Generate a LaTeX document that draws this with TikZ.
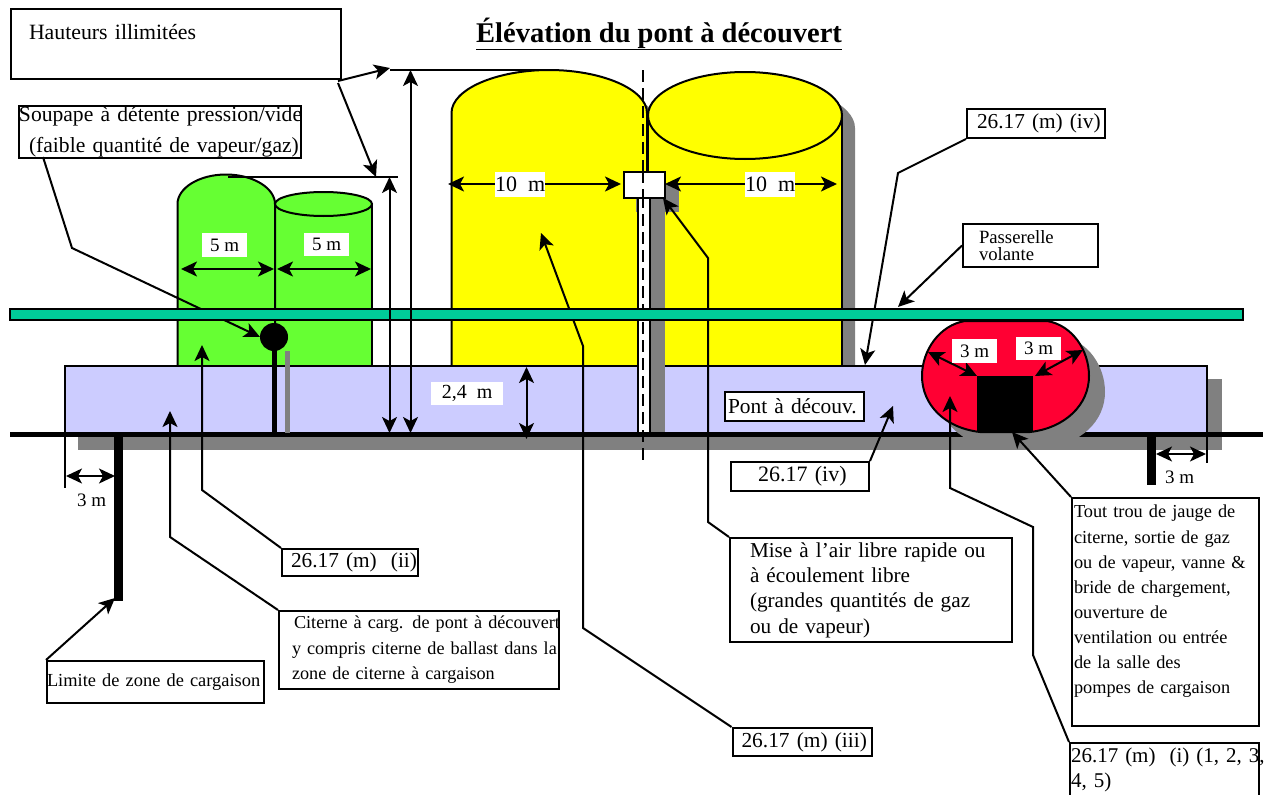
\documentclass[tikz,border=0pt]{standalone}
\usepackage{fontspec}
\setmainfont{Liberation Serif}
\usetikzlibrary{arrows.meta}
\definecolor{tankgreen}{HTML}{66FF33}
\definecolor{tankyellow}{HTML}{FFFF00}
\definecolor{deckblue}{HTML}{CCCCFF}
\definecolor{walkgreen}{HTML}{00CC99}
\definecolor{tankred}{HTML}{FF0033}
\definecolor{shadowgrey}{HTML}{808080}
\newcommand\linetxt[2]{\mbox{\kern#1pt #2}}
\newcommand\fs[2]{\fontsize{#1}{#2}\selectfont}
\tikzset{
  lead/.style={draw=black,line width=2pt,-{Stealth[length=16pt,width=15pt,inset=4pt]},line join=miter},
  dimb/.style={draw=black,line width=2pt,{Stealth[length=16pt,width=15pt,inset=4pt]}-{Stealth[length=16pt,width=15pt,inset=4pt]}},
  plain/.style={draw=black,line width=2pt},
  callout/.style={draw=black,fill=white,line width=2pt,anchor=north west,inner sep=0pt,align=left,text=black},
  whitelabel/.style={fill=white,inner sep=0pt,anchor=north west,align=center},
  freetext/.style={inner sep=0pt,anchor=base west},
  shadow/.style={fill=shadowgrey,draw=none},
  tank/.style={draw=black,line width=2pt},
}
\begin{document}
\begin{tikzpicture}[x=1pt,y=-1pt]
\useasboundingbox (0,0) rectangle (1270,795);
\fill[white] (0,0) rectangle (1270,795);

% yellow tank shadows
\path[shadow] (464.5,379) -- (464.5,127) .. controls (464.5,103) and (510,83) .. (562,83) .. controls (614,83) and (660,103) .. (660,127) -- (660,379) -- cycle;
\path[shadow] (661,379) -- (661,128) .. controls (661,104) and (706,84) .. (758,84) .. controls (810,84) and (855,104) .. (855,128) -- (855,379) -- cycle;
% yellow tanks
\path[tank,fill=tankyellow] (648,366) -- (648,115.5) -- (842,115.5) -- (842,366) -- cycle;
\path[tank,fill=tankyellow] (451.5,366) -- (451.5,113) .. controls (451.5,89) and (497,70) .. (549,70) .. controls (601,70) and (647,89) .. (647,113) -- (647,366) -- cycle;
\path[tank,fill=tankyellow] (745,115.5) ellipse [x radius=97,y radius=43.5];
% green tanks
\path[tank,fill=tankgreen] (275,366) -- (275,204) -- (372,204) -- (372,366) -- cycle;
\path[tank,fill=tankgreen] (177.5,366) -- (177.5,204) .. controls (177.5,188) and (199,174.5) .. (226,174.5) .. controls (253,174.5) and (275,188) .. (275,204) -- (275,366) -- cycle;
\path[tank,fill=tankgreen] (323.5,204) ellipse [x radius=48.5,y radius=12];

% deck
\path[shadow] (78,379) rectangle (1222,449.5);
\path[tank,fill=deckblue] (65,366) rectangle (1207,434);
% vent shadow
\path[shadow] (650,197) rectangle (665,434);
\path[shadow] (636,184) rectangle (679,212);
% vent pipe
\path[tank,fill=white] (637.5,190) rectangle (650,434);

% named points
\coordinate (ventTip) at (663,198);
\coordinate (ventBend) at (708,258);
\coordinate (ventBendB) at (708,522);
\coordinate (ivTip) at (865,365);
\coordinate (ivBend) at (898,173);
\coordinate (iiiTip) at (541,233);
\coordinate (iiiBendA) at (583,346);
\coordinate (iiiBendB) at (583,628);
\coordinate (ballLeft) at (260,337);
\coordinate (valveBend) at (72,248);
\coordinate (cTop) at (643,70);
\coordinate (cBot) at (643,465);

% callouts that the leaders start from
\node[callout,text width=139pt,minimum height=28pt,font=\fs{21.4}{25}] (b3) at (731.5,727) {\linetxt{9}{26.17 (m) (iii)}};
\node[callout,text width=138pt,minimum height=29pt,font=\fs{21.3}{25}] (b4m) at (966,108) {\linetxt{10}{26.17 (m) (iv)}};
\node[callout,text width=282pt,minimum height=104pt,font=\fs{21.2}{25.3}] (bmise) at (729,537) {\linetxt{20}{Mise à l'air libre rapide ou}\\\linetxt{20}{à écoulement libre}\\\linetxt{20}{(grandes quantités de gaz}\\\linetxt{20}{ou de vapeur)}};
\node[callout,text width=282pt,minimum height=52pt,font=\fs{21.6}{31.5}] (bsoup) at (18,105) {\linetxt{0}{Soupape à détente pression/vide}\\\linetxt{10}{(faible quantité de vapeur/gaz)}};

% leaders that pass under the walkway
\coordinate (soupStart) at (43,157);
\draw[lead] (soupStart) -- (valveBend) -- (ballLeft);
\draw[lead] (b3.north west) -- (iiiBendB) -- (iiiBendA) -- (iiiTip);
\draw[lead] (bmise.north west) -- (ventBendB) -- (ventBend) -- (ventTip);
\draw[lead] (b4m.south west) -- (ivBend) -- (ivTip);
\draw[line width=2.2pt,dash pattern=on 12pt off 6pt] (cTop) -- (cBot);

% walkway
\path[tank,fill=walkgreen] (10,309) rectangle (1243,320);

% deck line
\draw[black,line width=4.5pt] (10,434.5) -- (1263,434.5);

% vent head
\node[draw=black,fill=white,line width=2pt,minimum width=41pt,minimum height=26pt,inner sep=0pt,anchor=north west] (ventbox) at (623,171) {};
\coordinate (vTopD) at (643,171);
\coordinate (vBotD) at (643,197);
\draw[line width=2.2pt,dash pattern=on 12pt off 6pt] (vTopD) -- (vBotD);

% valve
\node[circle,fill=black,minimum size=28pt,inner sep=0pt] (ball) at (274,337) {};
\fill[black] (271.5,345) rectangle (276.5,434);
\fill[shadowgrey] (285,351) rectangle (290,433);

% red tank
\path[shadow] (981,337) .. controls (956,341) and (938,366) .. (938,392) .. controls (938,421) and (961,444) .. (996,448) -- (1046,448) .. controls (1081,444) and (1105,421) .. (1105,392) .. controls (1105,366) and (1088,341) .. (1063,337) -- cycle;
\path[tank,fill=tankred] (965,321) .. controls (940,325) and (922,350) .. (922,376) .. controls (922,405) and (945,428) .. (980,432) -- (1030,432) .. controls (1065,428) and (1089,405) .. (1089,376) .. controls (1089,350) and (1072,325) .. (1047,321) -- cycle;
\fill[black] (977,376) rectangle (1033,432);

% limit bars
\fill[black] (114,434) rectangle (123,601);
\fill[black] (1147,434) rectangle (1156,485);
\draw[plain] (65,434) -- (65,488);
\draw[plain] (1206.5,434) -- (1206.5,463);

% level lines
\coordinate (topA) at (390,70);
\coordinate (topB) at (540,70);
\coordinate (lowA) at (228,177);
\coordinate (lowB) at (398,177);
\draw[plain] (topA) -- (topB);
\draw[plain] (lowA) -- (lowB);

% height dimensions
\coordinate (d1t) at (410.5,70);
\coordinate (d1b) at (410.5,433);
\coordinate (d2t) at (389.5,177);
\coordinate (d2b) at (389.5,433);
\draw[dimb] (d1t) -- (d1b);
\draw[dimb] (d2t) -- (d2b);
\coordinate (d3t) at (526.5,367);
\coordinate (d3b) at (526.5,439);
\draw[dimb] (d3t) -- (d3b);

% width dimensions
\coordinate (g1a) at (181,269);\coordinate (g1b) at (274,269);
\coordinate (g2a) at (277,269);\coordinate (g2b) at (371,269);
\draw[dimb] (g1a) -- (g1b);
\draw[dimb] (g2a) -- (g2b);
\coordinate (y1a) at (448,184);\coordinate (y1b) at (621,184);
\coordinate (y2a) at (665,184);\coordinate (y2b) at (837,184);
\draw[dimb] (y1a) -- (y1b);
\draw[dimb] (y2a) -- (y2b);
\coordinate (r1a) at (928,352);\coordinate (r1b) at (977,376);
\coordinate (r2a) at (1083,350);\coordinate (r2b) at (1035,376);
\draw[dimb] (r1a) -- (r1b);
\draw[dimb] (r2a) -- (r2b);
\coordinate (m1a) at (66,476);\coordinate (m1b) at (115,476);
\coordinate (m2a) at (1156,454);\coordinate (m2b) at (1206,454);
\draw[dimb,line width=1.5pt] (m1a) -- (m1b);
\draw[dimb,line width=1.5pt] (m2a) -- (m2b);

% white dimension labels
\node[whitelabel,minimum width=45pt,minimum height=24pt,font=\fs{19}{22}] (l5a) at (202,233) {5 m};
\node[whitelabel,minimum width=45pt,minimum height=23pt,font=\fs{19}{22}] (l5b) at (304,233) {5 m};
\node[whitelabel,minimum width=48pt,minimum height=25pt,font=\fs{22}{25}] (l10a) at (495,172) {10\ \ m};
\node[whitelabel,minimum width=49pt,minimum height=25pt,font=\fs{22}{25}] (l10b) at (745,172) {10\ \ m};
\node[whitelabel,minimum width=72pt,minimum height=23pt,font=\fs{20}{22}] (l24) at (431,382) {2,4\ \ m};
\node[whitelabel,minimum width=45pt,minimum height=24pt,font=\fs{19}{22}] (l3a) at (952,339) {3 m};
\node[whitelabel,minimum width=45pt,minimum height=23pt,font=\fs{19}{22}] (l3b) at (1016,337) {3 m};
\node[freetext,font=\fs{19}{22}] (l3c) at (77,506) {3 m};
\node[freetext,font=\fs{19}{22}] (l3d) at (1165,483) {3 m};

% title
\node[freetext,font=\fs{28.5}{30}\bfseries] (title) at (476,42) {\underline{Élévation du pont à découvert}};

% other callouts
\node[callout,text width=330pt,minimum height=70pt,font=\fs{21.8}{25}] (bh) at (10,8) {\linetxt{18}{Hauteurs illimitées}\\\ };
\node[callout,text width=139pt,minimum height=29pt,font=\fs{21.4}{25}] (bpont) at (724,391) {\linetxt{3}{Pont à découv.}};
\node[callout,text width=138pt,minimum height=29pt,font=\fs{22}{25}] (b4) at (730,461) {\linetxt{27}{26.17 (iv)}};
\node[callout,text width=136pt,minimum height=27pt,font=\fs{21.3}{25}] (b2) at (281,548) {\linetxt{9}{26.17 (m)\ \ (ii)}};
\node[callout,text width=280pt,minimum height=78pt,font=\fs{18.2}{25.5}] (bcit) at (278,610) {\linetxt{15}{Citerne à carg. de pont à découvert}\\\linetxt{13}{y compris citerne de ballast dans la}\\\linetxt{13}{zone de citerne à cargaison}};
\node[callout,text width=217pt,minimum height=42pt,font=\fs{18.4}{22}] (blim) at (46,660) {\linetxt{0}{Limite de zone de cargaison}};
\node[callout,text width=187pt,minimum height=228pt,font=\fs{18.3}{25.1}] (btout) at (1071,497) {\linetxt{2}{Tout trou de jauge de}\\\linetxt{2}{citerne, sortie de gaz}\\\linetxt{2}{ou de vapeur, vanne \&}\\\linetxt{2}{bride de chargement,}\\\linetxt{2}{ouverture de}\\\linetxt{2}{ventilation ou entrée}\\\linetxt{2}{de la salle des}\\\linetxt{2}{pompes de cargaison}\\\ };
\node[callout,text width=189pt,minimum height=53pt,font=\fs{21}{25}] (b1) at (1069,742) {\linetxt{1}{26.17 (m)\ \ (i) (1, 2, 3,}\\\linetxt{1}{4, 5)}};
\node[callout,text width=135pt,minimum height=43pt,font=\fs{18.7}{17}] (bpas) at (962,223) {\linetxt{16}{Passerelle}\\\linetxt{16}{volante}};

% leaders above the rest
\coordinate (hStartA) at (338,81);
\coordinate (hStartB) at (338,83);
\coordinate (hTipA) at (390,68);
\coordinate (hTipB) at (376,177);
\draw[lead] (hStartA) -- (hTipA);
\draw[lead] (hStartB) -- (hTipB);
\coordinate (t2) at (202,345);\coordinate (b2B) at (202,490);
\draw[lead] (b2.north west) -- (b2B) -- (t2);
\coordinate (tc) at (170,411);\coordinate (bcB) at (170,537);
\draw[lead] (bcit.north west) -- (bcB) -- (tc);
\coordinate (tl) at (115,598);
\draw[lead] (blim.north west) -- (tl);
\coordinate (t4) at (893,406);
\draw[lead] (b4.north east) -- (t4);
\coordinate (tt) at (1012,432);
\draw[lead] (btout.north west) -- (tt);
\coordinate (t1) at (950,396);\coordinate (b1A) at (950,488);\coordinate (b1B) at (1033,527);\coordinate (b1C) at (1033,655);
\draw[lead] (b1.north west) -- (b1C) -- (b1B) -- (b1A) -- (t1);
\coordinate (tp) at (898,307);
\draw[lead] (bpas.west) -- (tp);
\end{tikzpicture}
\end{document}
